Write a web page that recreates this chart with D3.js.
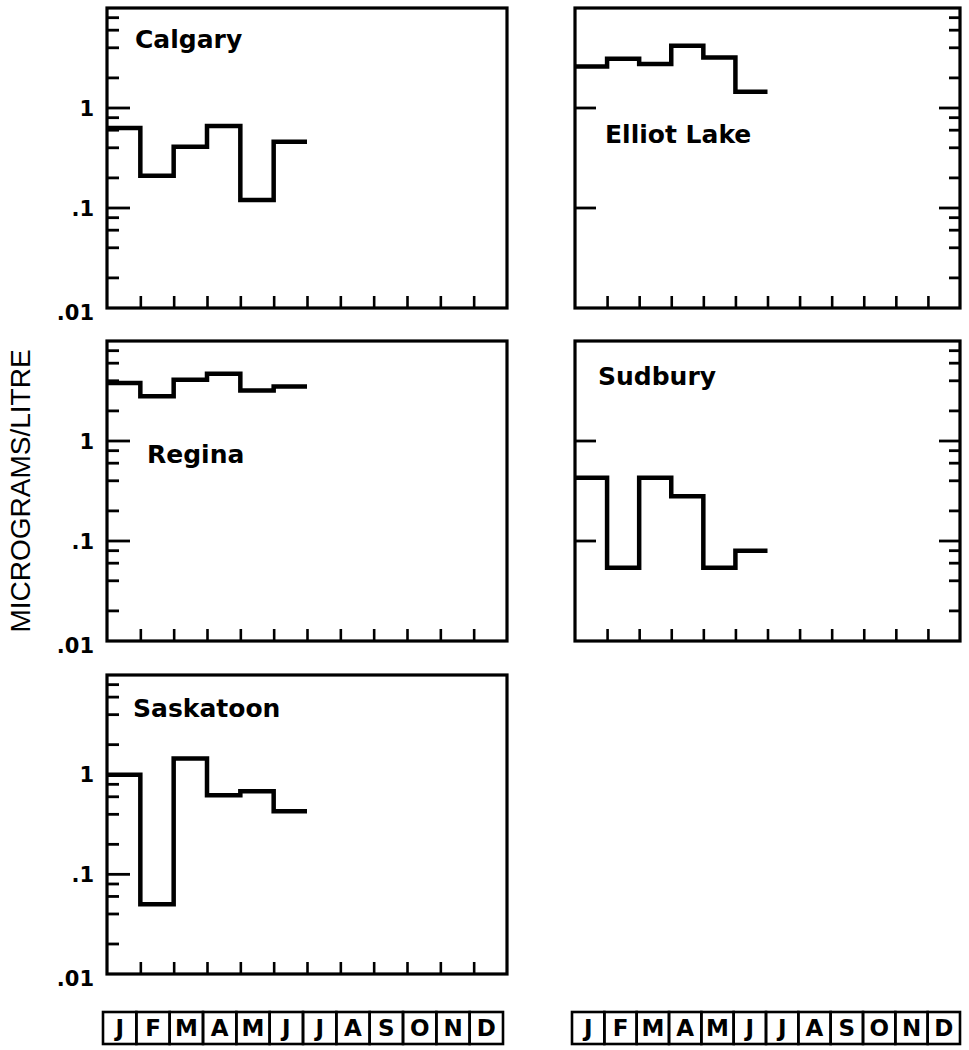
<!DOCTYPE html>
<html>
<head>
<meta charset="utf-8">
<script src="https://cdn.jsdelivr.net/npm/d3@7"></script>
<style>
  body { margin: 0; background: #fff; }
  text { fill: #000; }
</style>
</head>
<body>
<div id="vis"></div>
<script>
const FRAME_WIDTH = 969;
const FRAME_HEIGHT = 1050;

// data (micrograms/litre, Jan..Jun)
const MONTHS = ["J", "F", "M", "A", "M", "J", "J", "A", "S", "O", "N", "D"];
const CALGARY = [0.63, 0.21, 0.41, 0.66, 0.12, 0.46];
const ELLIOT_LAKE = [2.6, 3.1, 2.75, 4.2, 3.2, 1.45];
const REGINA = [3.8, 2.8, 4.1, 4.7, 3.2, 3.5];
const SUDBURY = [0.43, 0.054, 0.43, 0.28, 0.054, 0.08];
const SASKATOON = [1.0, 0.05, 1.45, 0.62, 0.68, 0.43];
const MAJOR_TICKS = [0.1, 1];
const Y_LABEL_VALUES = [0.01, 0.1, 1];
const Y_LABELS = [".01", ".1", "1"];
const MINOR_TICKS = [0.02, 0.04, 0.06, 0.08, 0.2, 0.4, 0.6, 0.8, 2, 4, 6, 8];
const Y_DOMAIN = [0.01, 10];
const Y_TITLE = "MICROGRAMS/LITRE";

// layout
const COLS = [{x0: 107, x1: 507}, {x0: 575, x1: 960}];
const ROWS = [{y0: 8, y1: 308}, {y0: 341, y1: 641}, {y0: 675, y1: 974}];
const PANELS = [
  {name: "Calgary", values: CALGARY, col: 0, row: 0, tx: 28, ty: 40},
  {name: "Elliot Lake", values: ELLIOT_LAKE, col: 1, row: 0, tx: 30, ty: 135},
  {name: "Regina", values: REGINA, col: 0, row: 1, tx: 40, ty: 122},
  {name: "Sudbury", values: SUDBURY, col: 1, row: 1, tx: 23, ty: 44},
  {name: "Saskatoon", values: SASKATOON, col: 0, row: 2, tx: 26, ty: 42}
];
const MINOR_LEN = 12;
const MAJOR_LEN = 23;

const SVG = d3.select("#vis")
  .append("svg")
    .attr("width", FRAME_WIDTH)
    .attr("height", FRAME_HEIGHT)
    .style("display", "block");

// draws horizontal inward ticks on a vertical edge (dir = +1 goes right, -1 goes left)
function yTicks(g, scale, values, x, len, dir) {
  g.append("g")
    .selectAll("line")
    .data(values)
    .enter()
    .append("line")
      .attr("x1", x)
      .attr("x2", x + dir * len)
      .attr("y1", (d) => scale(d))
      .attr("y2", (d) => scale(d))
      .attr("stroke", "#000")
      .attr("stroke-width", 2.8);
}

PANELS.forEach((p) => {
  const c = COLS[p.col];
  const r = ROWS[p.row];
  const X_SCALE = d3.scaleLinear().domain([0, 12]).range([c.x0, c.x1]);
  const Y_SCALE = d3.scaleLog().domain(Y_DOMAIN).range([r.y1, r.y0]);
  const g = SVG.append("g");

  // frame
  g.append("rect")
    .attr("x", c.x0)
    .attr("y", r.y0)
    .attr("width", c.x1 - c.x0)
    .attr("height", r.y1 - r.y0)
    .attr("fill", "none")
    .attr("stroke", "#000")
    .attr("stroke-width", 3.2);

  // month ticks on the bottom
  g.append("g")
    .attr("transform", "translate(0," + r.y1 + ")")
    .call(d3.axisBottom(X_SCALE).tickValues(d3.range(1, 12)).tickSize(-MINOR_LEN).tickFormat(""))
    .call((a) => a.select(".domain").remove())
    .call((a) => a.selectAll(".tick line").attr("stroke", "#000").attr("stroke-width", 2.6));

  if (p.col === 0) {
    yTicks(g, Y_SCALE, MINOR_TICKS, c.x0, MINOR_LEN, 1);
    yTicks(g, Y_SCALE, MAJOR_TICKS, c.x0, MAJOR_LEN, 1);
    g.selectAll(".ylab")
      .data(Y_LABEL_VALUES)
      .enter()
      .append("text")
        .attr("x", c.x0 - 13)
        .attr("y", (d) => Y_SCALE(d) + (d === Y_DOMAIN[0] ? 4 : 0))
        .attr("dy", "0.36em")
        .attr("text-anchor", "end")
        .attr("font-family", "DejaVu Sans")
        .attr("font-weight", "bold")
        .attr("font-size", 21)
        .text((d, i) => Y_LABELS[i]);
  } else {
    // right column: major ticks on the left, all ticks on the right
    yTicks(g, Y_SCALE, MAJOR_TICKS, c.x0, MAJOR_LEN - 2, 1);
    yTicks(g, Y_SCALE, MINOR_TICKS, c.x1, MINOR_LEN - 1, -1);
    yTicks(g, Y_SCALE, MAJOR_TICKS, c.x1, MAJOR_LEN - 2, -1);
  }

  // step line
  const pts = p.values.map((v, i) => ({i: i, v: v}));
  pts.push({i: p.values.length, v: p.values[p.values.length - 1]});
  const LINE = d3.line()
    .x((d) => X_SCALE(d.i))
    .y((d) => Y_SCALE(d.v))
    .curve(d3.curveStepAfter);
  g.append("path")
    .datum(pts)
    .attr("d", LINE)
    .attr("fill", "none")
    .attr("stroke", "#000")
    .attr("stroke-width", 4.5)
    .attr("stroke-linejoin", "miter");

  // station name
  g.append("text")
    .attr("x", c.x0 + p.tx)
    .attr("y", r.y0 + p.ty)
    .attr("font-family", "DejaVu Sans")
    .attr("font-weight", "bold")
    .attr("font-size", 25)
    .text(p.name);
});

// y title
SVG.append("text")
  .attr("transform", "translate(30," + ((ROWS[1].y0 + ROWS[1].y1) / 2) + ") rotate(-90)")
  .attr("text-anchor", "middle")
  .attr("font-family", "Liberation Sans")
  .attr("font-size", 28)
  .text(Y_TITLE);

// month boxes under each column
const BOX_RANGES = [[103, 503], [572, 960]];
BOX_RANGES.forEach((rng) => {
  const B_SCALE = d3.scaleBand().domain(d3.range(12)).range(rng);
  const bg = SVG.append("g");
  bg.selectAll("rect")
    .data(MONTHS)
    .enter()
    .append("rect")
      .attr("x", (d, i) => B_SCALE(i))
      .attr("y", 1012)
      .attr("width", B_SCALE.bandwidth())
      .attr("height", 32)
      .attr("fill", "none")
      .attr("stroke", "#000")
      .attr("stroke-width", 2.6);
  bg.selectAll("text")
    .data(MONTHS)
    .enter()
    .append("text")
      .attr("x", (d, i) => B_SCALE(i) + B_SCALE.bandwidth() / 2)
      .attr("y", 1028)
      .attr("dy", "0.36em")
      .attr("text-anchor", "middle")
      .attr("font-family", "DejaVu Sans")
      .attr("font-weight", "bold")
      .attr("font-size", 23)
      .text((d) => d);
});
</script>
</body>
</html>
